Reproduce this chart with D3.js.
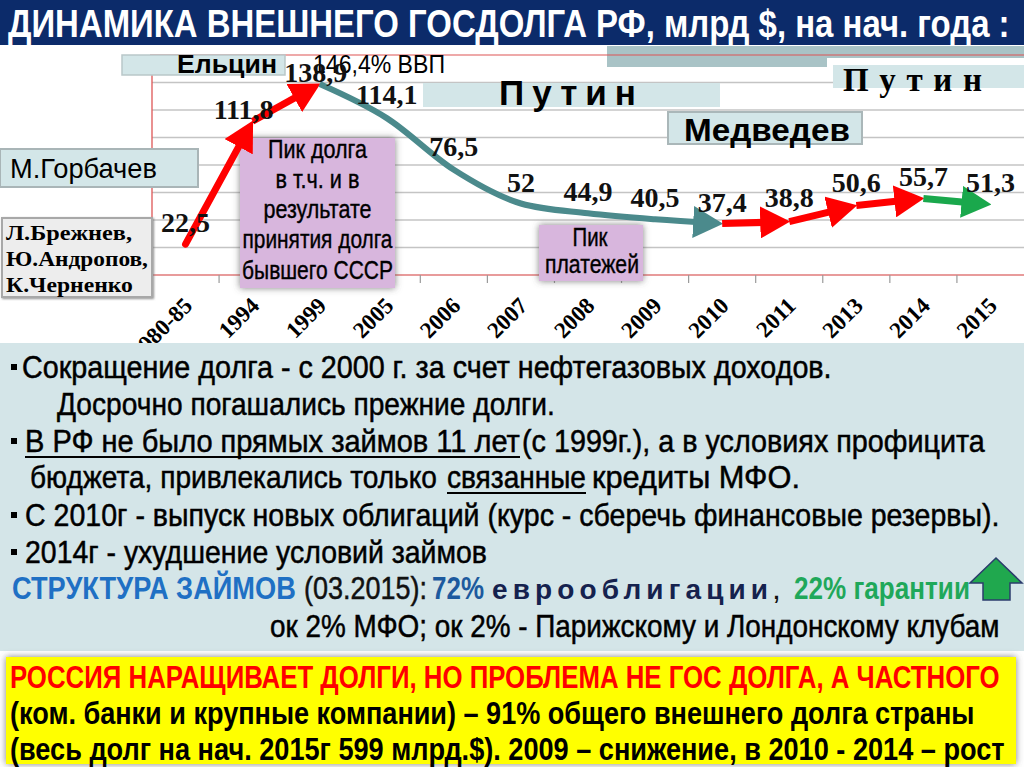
<!DOCTYPE html>
<html><head><meta charset="utf-8">
<script src="https://cdn.jsdelivr.net/npm/d3@7"></script>
<style>body{margin:0;background:#fff}svg{display:block}</style>
</head><body>
<svg id="c" width="1024" height="767"></svg>
<script>
// ---------- DATA ----------
const categories = ["1980-85","1994","1999","2005","2006","2007","2008","2009","2010","2011","2013","2014","2015"];
const debt = [22.5,111.8,138.9,114.1,76.5,52,44.9,40.5,37.4,38.8,50.6,55.7,51.3];
const valueLabels = ["22,5","111,8","138,9","114,1","76,5","52","44,9","40,5","37,4","38,8","50,6","55,7","51,3"];
const yTicks = [0,20,40,60,80,100,120,140,160];
// trend pieces (index ranges into categories) and their kind
const pieceFrom = [0,1,2,8,9,10,11];
const pieceTo   = [1,2,8,9,10,11,12];
const pieceKind = ["growth","growth","repay","growth","growth","growth","decline"];

// ---------- SETUP ----------
const NARROW = "'Liberation Sans',Arial,sans-serif";
const SANS = "'Liberation Sans',Arial,sans-serif";
const SERIF = "'Liberation Serif','DejaVu Serif',serif";
const svg = d3.select("#c");
const defs = svg.append("defs");
const glow = defs.append("filter").attr("id","glow").attr("x","-20%").attr("y","-20%").attr("width","140%").attr("height","140%");
glow.append("feDropShadow").attr("dx",0).attr("dy",0).attr("stdDeviation",3.5).attr("flood-color","#555").attr("flood-opacity",0.75);
const sh = defs.append("filter").attr("id","sh").attr("x","-10%").attr("y","-20%").attr("width","120%").attr("height","150%");
sh.append("feDropShadow").attr("dx",1).attr("dy",1).attr("stdDeviation",1.2).attr("flood-color","#777").attr("flood-opacity",0.8);

// text helper: fits width by horizontal scaling (or letter spacing)
function T(g, x, y, s, o={}) {
  const t = g.append("text").text(s)
    .attr("font-family", o.family||NARROW).attr("font-size", o.size||30)
    .attr("font-weight", o.weight||"normal").attr("fill", o.fill||"#000")
    .attr("text-anchor", o.anchor||"start");
  if (o.heavy) t.attr("stroke", o.fill||"#000").attr("stroke-width", o.heavy);
  if (o.len && o.adj === "spacing") {
    t.attr("x",x).attr("y",y);
    const w = t.node().getComputedTextLength();
    const n = [...s].length;
    t.attr("letter-spacing", ((o.len - w)/(n-1)).toFixed(2));
  } else if (o.len) {
    t.attr("x",0).attr("y",0);
    const w = t.node().getComputedTextLength();
    t.attr("transform", `translate(${x},${y}) scale(${(o.len/w).toFixed(4)},1)`);
  } else {
    t.attr("x",x).attr("y",y);
  }
  return t;
}
function R(g, x, y, w, h, fill, o={}) {
  const r = g.append("rect").attr("x",x).attr("y",y).attr("width",w).attr("height",h).attr("fill",fill);
  if (o.stroke) r.attr("stroke",o.stroke).attr("stroke-width",o.sw||1.5);
  if (o.filter) r.attr("filter",`url(#${o.filter})`);
  return r;
}

// ---------- TITLE ----------
R(svg,0,0,1024,45,"#0c2b6a");
T(svg,8,37,"ДИНАМИКА ВНЕШНЕГО ГОСДОЛГА РФ, млрд $, на нач. года :",{size:39,weight:"bold",fill:"#fff",len:1002});

// decorative strip under title
R(svg,607,46,417,12,"#a9c3c6");
R(svg,607,58,220,9,"#a9c3c6");

// ---------- CHART ----------
const x = d3.scaleBand().domain(categories).range([152,1024]);
const y = d3.scaleLinear().domain([0,160]).range([275,55]);
const cx = c => x(c) + x.bandwidth()/2;

const grid = svg.append("g");
grid.selectAll("line.g").data(yTicks.filter(v=>v>0 && v<160)).enter().append("line")
  .attr("x1",152).attr("x2",1024).attr("y1",d=>y(d)).attr("y2",d=>y(d))
  .attr("stroke","#c4c4c4").attr("stroke-width",1.6);
grid.append("line").attr("x1",150).attr("x2",1024).attr("y1",y(160)).attr("y2",y(160)).attr("stroke","#dd5555").attr("stroke-width",1.2);
grid.append("line").attr("x1",152).attr("x2",1024).attr("y1",y(0)).attr("y2",y(0)).attr("stroke","#e07a7a").attr("stroke-width",1.3);
grid.append("line").attr("x1",152).attr("x2",152).attr("y1",y(160)).attr("y2",y(0)).attr("stroke","#dd5555").attr("stroke-width",1.3);

// x axis via d3 axis (ticks between bands)
const axisG = svg.append("g").attr("transform",`translate(0,${y(0)})`)
  .call(d3.axisBottom(x).tickSize(0).tickFormat(""));
axisG.select(".domain").remove();
svg.append("g").selectAll("line").data(categories).enter().append("line")
  .attr("x1",d=>x(d)).attr("x2",d=>x(d)).attr("y1",y(0)).attr("y2",y(0)+8)
  .attr("stroke","#9a9a9a").attr("stroke-width",1.2);
svg.append("g").selectAll("text").data(categories).enter().append("text")
  .attr("transform",d=>`translate(${cx(d)+8},307) rotate(-45)`)
  .attr("text-anchor","end").attr("font-family",SERIF).attr("font-weight","bold")
  .attr("font-size",23).attr("fill","#000").text(d=>d);

// ---------- ANNOTATION BOXES (behind lines) ----------
// Ельцин
R(svg,122,55,163,20,"#d3e6e8",{stroke:"#b9c7c9",sw:1.5});
T(svg,177,73,"Ельцин",{size:26,weight:"bold",family:SANS,len:100});
T(svg,313,73,"146,4% ВВП",{size:25,family:SANS,len:132});
// Путин 1
R(svg,423,83,297,24,"#d3e6e8");
T(svg,499,105,"Путин",{size:35,weight:"bold",family:SANS,len:137,adj:"spacing"});
// Путин 2
R(svg,833,65,191,23,"#d3e6e8");
T(svg,843,91,"Путин",{size:33,weight:"bold",family:SERIF,len:139,adj:"spacing"});
// Медведев
R(svg,668,112,194,32,"#d3e6e8",{stroke:"#aab7b9",sw:2});
T(svg,684,141,"Медведев",{size:32,weight:"bold",family:SANS,len:166});
// Горбачев
R(svg,0,149,198,38,"#d3e6e8",{stroke:"#a9b5b7",sw:2});
T(svg,10,178,"М.Горбачев",{size:27,family:SANS,len:147});
// Брежнев...
R(svg,2,218,150,79,"#ededed",{stroke:"#a8a8a8",sw:2,filter:"sh"});
T(svg,6,240,"Л.Брежнев,",{size:21,weight:"bold",family:SERIF,len:126});
T(svg,6,266,"Ю.Андропов,",{size:21,weight:"bold",family:SERIF,len:142});
T(svg,6,292,"К.Черненко",{size:21,weight:"bold",family:SERIF,len:127});
// Пик долга
R(svg,240,138,155,150,"#d8b6dd",{filter:"glow"});
const pk = [["Пик долга",99,158],["в т.ч. и в",84,188],["результате",108,218],["принятия долга",150,248],["бывшего СССР",151,279]];
pk.forEach(p=>T(svg,317.5,p[2],p[0],{size:26,anchor:"middle",len:p[1],heavy:0.4}));
// Пик платежей
R(svg,539,225,104,56,"#d8b6dd",{filter:"glow"});
T(svg,590,246,"Пик",{size:25,anchor:"middle",len:35,heavy:0.4});
T(svg,592,273,"платежей",{size:25,anchor:"middle",len:94,heavy:0.4});

// ---------- LINES WITH ARROWS ----------
const colorOf = {growth:"#ff0000", repay:"#4b8a8c", decline:"#1aa84c"};
const widthOf = {growth:7, repay:6, decline:7};
Object.keys(colorOf).forEach(k=>{
  defs.append("marker").attr("id","m-"+k).attr("markerUnits","userSpaceOnUse")
    .attr("viewBox","0 0 30 32").attr("markerWidth",30).attr("markerHeight",32)
    .attr("refX",29).attr("refY",16).attr("orient","auto")
    .append("path").attr("d","M0,0 L30,16 L0,32 Z").attr("fill",colorOf[k]);
});
const pts = categories.map((c,i)=>[cx(c), y(debt[i])]);
const lineG = svg.append("g");
pieceFrom.forEach((f,i)=>{
  const k = pieceKind[i];
  const seg = pts.slice(f, pieceTo[i]+1);
  const gen = d3.line().curve(seg.length>2 ? d3.curveMonotoneX : d3.curveLinear);
  const p = lineG.append("path").attr("d",gen(seg)).attr("fill","none")
    .attr("stroke",colorOf[k]).attr("stroke-width",widthOf[k])
    .attr("stroke-linecap", i===0 ? "round" : "butt")
    .attr("marker-end",`url(#m-${k})`);
  const L = p.node().getTotalLength();
  p.attr("stroke-dasharray", `${Math.max(0,L-9)} 2000`);
});

// value labels
const nudge = {"1994":[-9,9.5], "1999":[-4,9.5], "2005":[0,-2.5], "2006":[0,-1.5], "2011":[0,-3], "2013":[0,-1.5]};
svg.append("g").selectAll("text").data(categories).enter().append("text")
  .attr("x",(d)=>cx(d)+((nudge[d]||[0,0])[0]))
  .attr("y",(d,i)=>y(debt[i])-12+((nudge[d]||[0,0])[1]))
  .attr("text-anchor","middle").attr("font-family",SERIF).attr("font-weight","bold")
  .attr("font-size",28).attr("fill","#111").text((d,i)=>valueLabels[i]);

// ---------- TEXT PANEL ----------
R(svg,0,343,1024,308,"#d4e5e8");
const bullets = [367,441,515,552];
bullets.forEach(b=>R(svg,11,b-3,6,6,"#000"));
const FS = 32, HV = 0.5;
T(svg,22,378,"Сокращение долга - с 2000 г.  за счет нефтегазовых доходов.",{size:FS,len:810,heavy:HV});
T(svg,57,415,"Досрочно погашались прежние долги.",{size:FS,len:498,heavy:HV});
T(svg,25,452,"В РФ не было прямых займов  11 лет",{size:FS,len:495,heavy:HV});
svg.append("line").attr("x1",25).attr("x2",520).attr("y1",457).attr("y2",457).attr("stroke","#000").attr("stroke-width",2);
T(svg,522,452,"(с 1999г.), а в условиях профицита",{size:FS,len:463,heavy:HV});
T(svg,30,488,"бюджета, привлекались только",{size:FS,len:407,heavy:HV});
T(svg,447,488,"связанные",{size:FS,len:139,heavy:HV});
svg.append("line").attr("x1",447).attr("x2",586).attr("y1",493).attr("y2",493).attr("stroke","#000").attr("stroke-width",2);
T(svg,592,488,"кредиты МФО.",{size:FS,len:208,heavy:HV});
T(svg,25,526,"С 2010г - выпуск новых облигаций (курс - сберечь финансовые резервы).",{size:FS,len:975,heavy:HV});
T(svg,25,563,"2014г - ухудшение условий займов",{size:FS,len:462,heavy:HV});
T(svg,12,599,"СТРУКТУРА ЗАЙМОВ",{size:FS,weight:"bold",fill:"#1f70c4",len:284});
T(svg,304,599,"(03.2015):",{size:FS,fill:"#111",len:123,heavy:HV});
T(svg,432,599,"72%",{size:FS,weight:"bold",fill:"#1d5a9e",len:52});
T(svg,492,599,"еврооблигации",{size:28,weight:"bold",family:SANS,fill:"#15224e",len:276,adj:"spacing"});
T(svg,772,599,",",{size:FS,fill:"#111"});
T(svg,794,599,"22% гарантии",{size:FS,weight:"bold",fill:"#1fa85a",len:176});
T(svg,270,637,"ок 2% МФО; ок 2% - Парижскому и Лондонскому клубам",{size:FS,len:730,heavy:HV});
svg.append("path").attr("d","M996,558 L1022,583 L1010,583 L1010,600 L983,600 L983,583 L970,583 Z")
  .attr("fill","#20a84e").attr("stroke","#2b3c6c").attr("stroke-width",1.5);

// ---------- YELLOW BOX ----------
R(svg,6,657,1010,107,"#ffff00",{filter:"glow"});
T(svg,10,688,"РОССИЯ НАРАЩИВАЕТ ДОЛГИ, НО  ПРОБЛЕМА НЕ  ГОС ДОЛГА,  А ЧАСТНОГО",{size:FS,weight:"bold",fill:"#ff0000",len:990});
T(svg,10,724,"(ком. банки и крупные компании) – 91% общего внешнего долга страны",{size:FS,weight:"bold",len:965});
T(svg,10,760,"(весь долг на нач. 2015г 599 млрд.$). 2009 – снижение, в 2010 - 2014 – рост",{size:FS,weight:"bold",len:995});
</script>
</body></html>
